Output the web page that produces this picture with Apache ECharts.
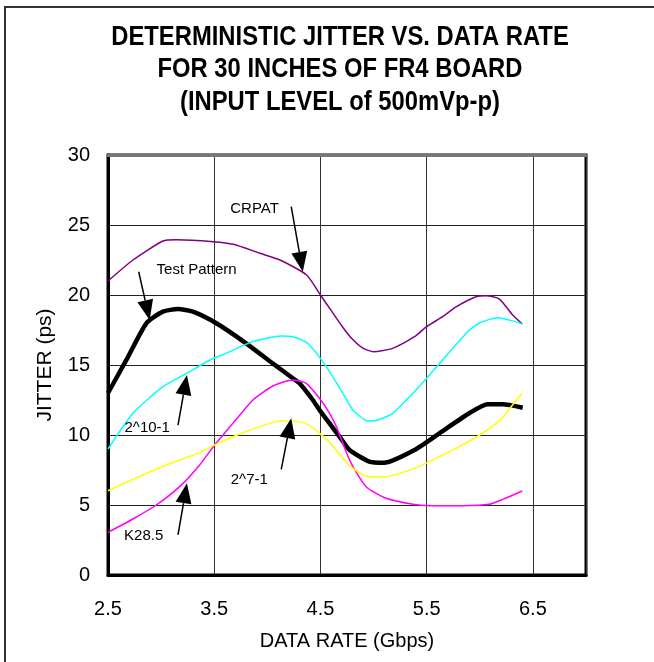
<!DOCTYPE html>
<html>
<head>
<meta charset="utf-8">
<script src="https://cdn.jsdelivr.net/npm/echarts@6/dist/echarts.min.js"></script>
<style>
html,body{margin:0;padding:0;background:#fff;}
#c{width:654px;height:662px;}
</style>
</head>
<body>
<div id="c"></div>
<script>
// Data: [data rate Gbps, jitter ps]
const testPattern = [[2.5,13.0],[2.673,15.36],[2.861,17.98],[3.017,18.81],[3.159,19.0],[3.3,18.81],[3.52,17.98],[3.8,16.55],[4.05,15.12],[4.24,14.05],[4.303,13.69],[4.428,12.5],[4.491,11.79],[4.586,10.83],[4.68,9.88],[4.774,8.93],[4.96,8.1],[5.1,8.02],[5.385,8.93],[5.62,10.12],[5.9,11.55],[6.075,12.19],[6.216,12.19],[6.404,11.95]];
const crpat = [[2.5,21.0],[2.735,22.5],[3.017,23.86],[3.143,23.95],[3.49,23.81],[3.68,23.62],[3.93,22.98],[4.12,22.5],[4.37,21.43],[4.5,20.0],[4.6,18.9],[4.71,17.7],[4.8,16.85],[4.9,16.2],[5.0,15.95],[5.18,16.19],[5.385,17.02],[5.5,17.74],[5.65,18.45],[5.78,19.17],[5.965,19.88],[6.06,19.95],[6.185,19.71],[6.31,18.57],[6.4,17.93]];
const prbs10 = [[2.5,9.0],[2.735,11.55],[3.017,13.45],[3.24,14.4],[3.46,15.36],[3.61,15.83],[3.86,16.67],[4.13,17.07],[4.24,17.02],[4.38,16.55],[4.555,14.88],[4.73,12.74],[4.805,11.79],[4.946,11.0],[5.04,11.07],[5.18,11.55],[5.37,12.98],[5.5,14.05],[5.65,15.36],[5.887,17.38],[6.0,18.02],[6.17,18.38],[6.3,18.17],[6.4,17.93]];
const k285 = [[2.5,3.05],[2.735,4.0],[2.955,5.0],[3.174,6.31],[3.363,7.86],[3.504,9.29],[3.676,10.83],[3.864,12.5],[4.052,13.5],[4.24,13.93],[4.366,13.69],[4.491,12.62],[4.586,11.55],[4.65,10.6],[4.774,8.21],[4.93,6.31],[5.119,5.48],[5.37,5.05],[5.526,4.95],[5.84,4.95],[6.09,5.05],[6.216,5.4],[6.4,6.0]];
const prbs7 = [[2.5,6.02],[2.735,6.83],[3.049,7.86],[3.363,8.74],[3.504,9.29],[3.739,10.07],[3.99,10.76],[4.131,11.0],[4.24,11.0],[4.38,10.76],[4.57,9.6],[4.77,7.85],[4.9,7.14],[4.993,7.02],[5.119,7.02],[5.385,7.62],[5.526,8.1],[5.777,9.05],[6.0,10.0],[6.2,11.12],[6.295,12.02],[6.4,12.98]];

// annotation labels: [text, x, y]
const labels = [['CRPAT',3.88,26.14],['Test Pattern',3.334,21.79],['2^10-1',2.869,10.54],['K28.5',2.836,2.79],['2^7-1',3.83,6.81]];
// annotation arrows: [fromX, fromY, tipX, tipY]
const arrows = [[4.225,26.31,4.334,21.66],[2.789,21.66,2.892,18.21],[3.159,10.71,3.243,14.29],[3.159,2.86,3.243,6.55],[4.131,7.55,4.225,11.19]];

const titleLines = ['DETERMINISTIC JITTER VS. DATA RATE','FOR 30 INCHES OF FR4 BOARD','(INPUT LEVEL of 500mVp-p)'];
const xName = 'DATA RATE (Gbps)';
const yName = 'JITTER (ps)';

const FONT = 'Liberation Sans, Arial, sans-serif';

const chart = echarts.init(document.getElementById('c'), null, {renderer:'canvas'});

function mk(name, data, color, width){
  return {name, type:'line', data, smooth:0.2, showSymbol:false, symbol:'none',
    lineStyle:{color, width}, itemStyle:{color}, animation:false, z:3};
}

const blackSeries = mk('Test Pattern', testPattern, '#000000', 4.5);
blackSeries.markPoint = {
  silent:true, animation:false, symbol:'rect', symbolSize:1, itemStyle:{color:'rgba(0,0,0,0)'},
  label:{show:true, position:'inside', color:'#000', fontSize:15, fontFamily:FONT},
  data: labels.map(l => ({coord:[l[1],l[2]], value:l[0], label:{formatter:l[0]}}))
};

const arrowSeries = {
  type:'custom', name:'arrows', data:arrows, silent:true, animation:false, z:5,
  renderItem: function(params, api){
    const p1 = api.coord([api.value(0), api.value(1)]);
    const p2 = api.coord([api.value(2), api.value(3)]);
    const dx = p2[0]-p1[0], dy = p2[1]-p1[1];
    const len = Math.sqrt(dx*dx+dy*dy);
    const ux = dx/len, uy = dy/len;
    const L = 20, W = 16;
    const bx = p2[0]-ux*L, by = p2[1]-uy*L;
    const nx = -uy, ny = ux;
    return {type:'group', children:[
      {type:'line', shape:{x1:p1[0], y1:p1[1], x2:bx, y2:by}, style:{stroke:'#000', lineWidth:1.5}},
      {type:'polygon', shape:{points:[[p2[0],p2[1]],[bx+nx*W/2, by+ny*W/2],[bx-nx*W/2, by-ny*W/2]]}, style:{fill:'#000'}}
    ]};
  }
};

const titleGraphics = titleLines.map((t, i) => ({
  type:'text', x:340, y:37 + i*32.5, scaleX:0.85, silent:true,
  style:{text:t, fontFamily:FONT, fontWeight:'bold', fontSize:28, fill:'#000', align:'center', verticalAlign:'middle'}
}));

chart.setOption({
  backgroundColor:'#fff',
  animation:false,
  grid:{left:108, right:68, top:155, bottom:87, show:true, borderColor:'#000', borderWidth:3, backgroundColor:'#fff'},
  xAxis:[{
    type:'value', min:2.5, max:7, interval:1,
    name:xName, nameLocation:'middle', nameGap:56,
    nameTextStyle:{fontFamily:FONT, fontSize:20, color:'#000'},
    axisLine:{show:true, lineStyle:{color:'#000', width:3}},
    axisTick:{show:false},
    axisLabel:{fontFamily:FONT, fontSize:20, color:'#000', margin:24,
      formatter: v => (Math.abs(v-7)<1e-9 ? '' : v.toFixed(1))},
    splitLine:{show:true, lineStyle:{color:'#333', width:1}}
  },{
    type:'value', min:2.5, max:7, position:'top', show:true,
    axisLine:{show:true, lineStyle:{color:'#777', width:3}},
    axisTick:{show:false}, axisLabel:{show:false}, splitLine:{show:false}
  }],
  yAxis:{
    type:'value', min:0, max:30, interval:5,
    name:yName, nameLocation:'middle', nameGap:52, nameRotate:90,
    nameTextStyle:{fontFamily:FONT, fontSize:21, color:'#000'},
    axisLine:{show:true, lineStyle:{color:'#000', width:3}},
    axisTick:{show:false},
    axisLabel:{fontFamily:FONT, fontSize:20, color:'#000', margin:18},
    splitLine:{show:true, lineStyle:{color:'#222', width:1}}
  },
  graphic:[
    {type:'line', shape:{x1:4, y1:7, x2:654, y2:7}, style:{stroke:'#333', lineWidth:2}, silent:true},
    {type:'line', shape:{x1:5, y1:7, x2:5, y2:662}, style:{stroke:'#333', lineWidth:2}, silent:true}
  ].concat(titleGraphics),
  series:[
    blackSeries,
    mk('CRPAT', crpat, '#800080', 1.5),
    mk('2^10-1', prbs10, '#00FFFF', 1.5),
    mk('K28.5', k285, '#FF00FF', 1.5),
    mk('2^7-1', prbs7, '#FFFF00', 1.5),
    arrowSeries
  ]
});
</script>
</body>
</html>
